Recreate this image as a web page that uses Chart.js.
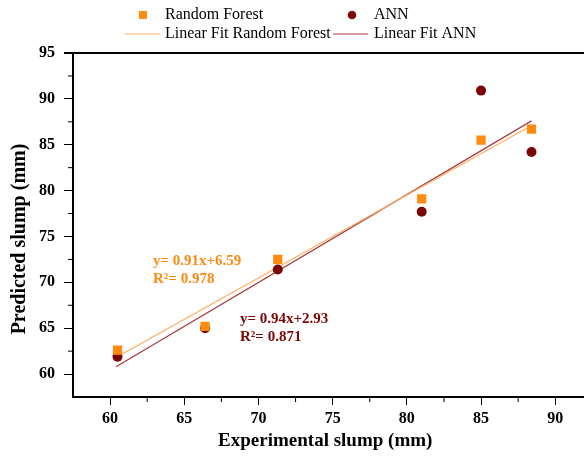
<!DOCTYPE html>
<html>
<head>
<meta charset="utf-8">
<script src="https://cdn.jsdelivr.net/npm/chart.js@4/dist/chart.umd.min.js"></script>
<style>
  body { margin: 0; background: #fff; }
  canvas { display: block; }
</style>
</head>
<body>
<canvas id="c" width="584" height="456"></canvas>
<script>
// values
const experimental = [60.5, 66.4, 71.3, 81.0, 85.0, 88.4];
const rfPredicted = [62.6, 65.2, 72.5, 79.1, 85.5, 86.7];
const annPredicted = [61.9, 65.0, 71.4, 77.7, 90.9, 84.2];
const rfFitX = [60.4, 88.4];
const rfFitY = [61.8, 87.1];
const annFitX = [60.4, 88.4];
const annFitY = [60.8, 87.6];
const xTicks = [60, 65, 70, 75, 80, 85, 90];
const xMinor = [62.5, 67.5, 72.5, 77.5, 82.5, 87.5];
const yTicks = [60, 65, 70, 75, 80, 85, 90, 95];
const yMinor = [62.5, 67.5, 72.5, 77.5, 82.5, 87.5, 92.5];

const SERIF = '"Liberation Serif", "Times New Roman", serif';
const ORANGE = '#ff8a12';
const MAROON = '#7b0606';

const toPts = (xs, ys) => xs.map((x, i) => ({ x: x, y: ys[i] }));

const extras = {
    id: 'extras',
    afterDraw(chart) {
        const ctx = chart.ctx;
        const a = chart.chartArea;
        const xs = chart.scales.x, ys = chart.scales.y;
        ctx.save();
        // top border of the frame (runs off the right edge, like the cropped original)
        ctx.strokeStyle = '#000';
        ctx.lineWidth = 2;
        ctx.beginPath();
        ctx.moveTo(a.left - 9, a.top);
        ctx.lineTo(chart.width, a.top);
        ctx.moveTo(a.right, a.bottom);
        ctx.lineTo(chart.width, a.bottom);
        ctx.stroke();
        // minor ticks
        ctx.lineWidth = 1;
        ctx.beginPath();
        xMinor.forEach(v => {
            const px = xs.getPixelForValue(v);
            ctx.moveTo(px, a.bottom);
            ctx.lineTo(px, a.bottom + 5);
        });
        yMinor.forEach(v => {
            const py = ys.getPixelForValue(v);
            ctx.moveTo(a.left, py);
            ctx.lineTo(a.left - 5, py);
        });
        ctx.stroke();

        // y axis title
        ctx.save();
        ctx.translate(20, 239);
        ctx.rotate(-Math.PI / 2);
        ctx.font = 'bold 20px ' + SERIF;
        ctx.textAlign = 'center';
        ctx.textBaseline = 'middle';
        ctx.fillStyle = '#000';
        ctx.fillText('Predicted slump (mm)', 0, 0);
        ctx.restore();

        // legend
        ctx.font = '16px ' + SERIF;
        ctx.textBaseline = 'middle';
        ctx.fillStyle = '#000';
        ctx.fillText('Random Forest', 165, 15);
        ctx.fillText('ANN', 374, 15);
        ctx.fillText('Linear Fit Random Forest', 165, 34);
        ctx.fillText('Linear Fit ANN', 374, 34);
        ctx.fillStyle = ORANGE;
        ctx.fillRect(139, 11, 8, 8);
        ctx.fillStyle = MAROON;
        ctx.beginPath();
        ctx.arc(352, 15, 4.3, 0, Math.PI * 2);
        ctx.fill();
        ctx.lineWidth = 1;
        ctx.strokeStyle = chart.data.datasets[2].borderColor;
        ctx.beginPath();
        ctx.moveTo(125, 34); ctx.lineTo(160, 34);
        ctx.stroke();
        ctx.strokeStyle = chart.data.datasets[3].borderColor;
        ctx.beginPath();
        ctx.moveTo(333, 34); ctx.lineTo(368, 34);
        ctx.stroke();

        // fit annotations
        ctx.font = 'bold 15px ' + SERIF;
        ctx.textBaseline = 'alphabetic';
        ctx.fillStyle = ORANGE;
        ctx.fillText('y= 0.91x+6.59', 153, 265);
        ctx.fillText('R\u00b2= 0.978', 153, 283);
        ctx.fillStyle = MAROON;
        ctx.fillText('y= 0.94x+2.93', 240, 323);
        ctx.fillText('R\u00b2= 0.871', 240, 341);
        ctx.restore();
    }
};

new Chart(document.getElementById('c'), {
    type: 'scatter',
    data: {
        datasets: [
            {
                label: 'Random Forest',
                data: toPts(experimental, rfPredicted),
                pointStyle: 'rect',
                pointRadius: 6.5,
                backgroundColor: ORANGE,
                borderWidth: 0
            },
            {
                label: 'ANN',
                data: toPts(experimental, annPredicted),
                pointStyle: 'circle',
                pointRadius: 5,
                backgroundColor: MAROON,
                borderWidth: 0
            },
            {
                label: 'Linear Fit Random Forest',
                data: toPts(rfFitX, rfFitY),
                showLine: true,
                pointRadius: 0,
                borderColor: '#ffad62',
                borderWidth: 1.2
            },
            {
                label: 'Linear Fit ANN',
                data: toPts(annFitX, annFitY),
                showLine: true,
                pointRadius: 0,
                borderColor: '#a83a40',
                borderWidth: 1.2
            }
        ]
    },
    options: {
        responsive: false,
        animation: false,
        layout: { padding: { top: 53, left: 0, right: 0, bottom: 0 } },
        plugins: {
            legend: { display: false },
            tooltip: { enabled: false }
        },
        scales: {
            x: {
                type: 'linear',
                min: 57.5,
                max: 91.5,
                afterBuildTicks: s => { s.ticks = xTicks.map(v => ({ value: v })); },
                afterFit: s => { s.height = 59; },
                border: { display: true, color: '#000', width: 2 },
                grid: { display: true, drawOnChartArea: false, drawTicks: true, tickLength: 8, color: '#000', lineWidth: 1 },
                ticks: { color: '#000', padding: 4, maxRotation: 0, font: { family: SERIF, size: 16, weight: 'bold' } },
                title: { display: true, text: 'Experimental slump (mm)', color: '#000', padding: { top: 4 }, font: { family: SERIF, size: 19, weight: 'bold' } }
            },
            y: {
                type: 'linear',
                min: 57.5,
                max: 95,
                afterBuildTicks: s => { s.ticks = yTicks.map(v => ({ value: v })); },
                afterFit: s => { s.width = 73; },
                border: { display: true, color: '#000', width: 2 },
                grid: { display: true, drawOnChartArea: false, drawTicks: true, tickLength: 9, color: '#000', lineWidth: 1 },
                ticks: { color: '#000', padding: 9, font: { family: SERIF, size: 16, weight: 'bold' } },
                title: { display: false }
            }
        }
    },
    plugins: [extras]
});
</script>
</body>
</html>
